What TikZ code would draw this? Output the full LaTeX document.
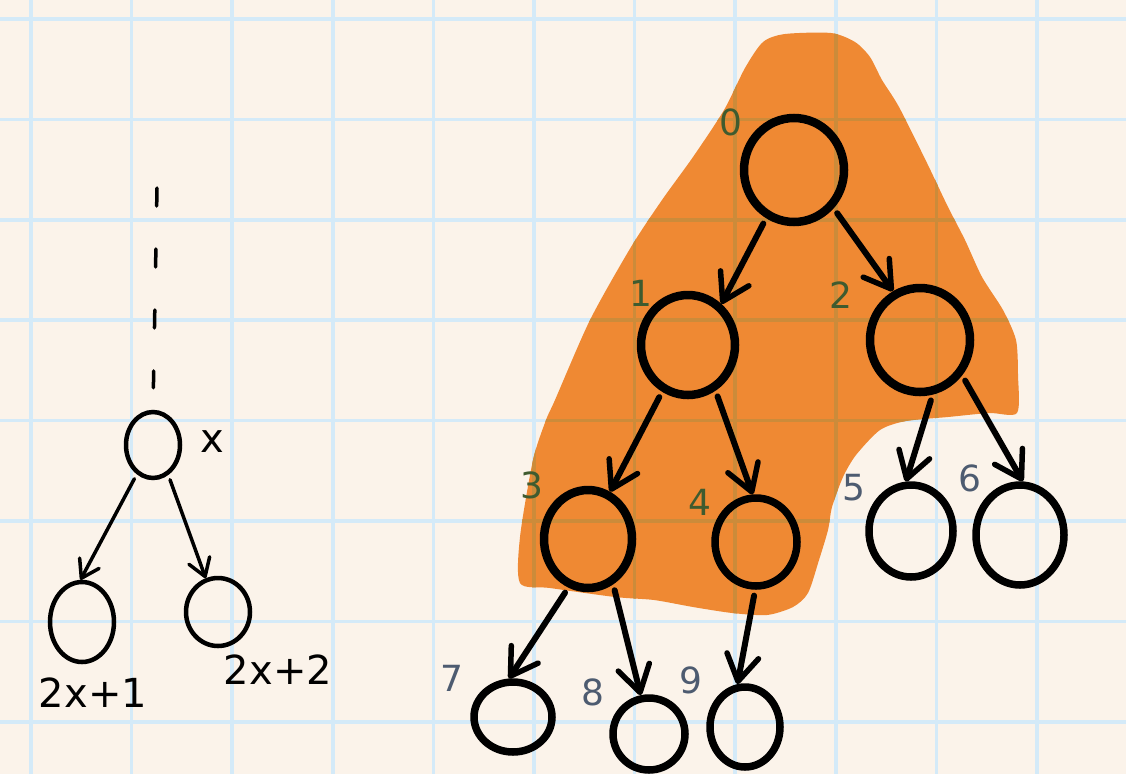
\documentclass[tikz,border=0pt]{standalone}
\usepackage{fontspec}
\setmainfont{DejaVu Sans}
\usetikzlibrary{shapes.geometric,arrows.meta}
\definecolor{paper}{RGB}{251,243,234}
\definecolor{gridblue}{RGB}{212,234,248}
\definecolor{gridtan}{RGB}{204,139,58}
\definecolor{blob}{RGB}{239,137,51}
\definecolor{lblgreen}{RGB}{63,91,47}
\definecolor{lblslate}{RGB}{77,91,112}
\begin{document}
\begin{tikzpicture}[x=1pt,y=-1pt,
  tnode/.style={ellipse,draw=black,line width=8.5pt,inner sep=0pt},
  snode/.style={ellipse,draw=black,line width=7.5pt,inner sep=0pt},
  lnode/.style={ellipse,draw=black,line width=4.5pt,inner sep=0pt},
  tedge/.style={line width=6pt,line cap=round,shorten <=6pt,
    -{Straight Barb[length=26pt,width=32pt,line width=5.5pt,round]}},
  ledge/.style={line width=3.5pt,line cap=round,shorten <=5pt,
    -{Straight Barb[length=17pt,width=22pt,line width=3.5pt,round]}},
  numg/.style={text=lblgreen,font=\fontsize{36}{36}\selectfont,inner sep=0pt},
  nums/.style={text=lblslate,font=\fontsize{36}{36}\selectfont,inner sep=0pt},
  hand/.style={text=black,font=\fontsize{40}{40}\selectfont,inner sep=0pt}]
\useasboundingbox (0,0) rectangle (1126,774);
\fill[paper] (0,0) rectangle (1126,774);
% grid
\foreach \i in {0,...,10} \draw[gridblue,line width=3.5pt] ({31+100.6*\i},0) -- ({31+100.6*\i},774);
\foreach \j in {0,...,7} \draw[gridblue,line width=3.5pt] (0,{19+100.4*\j}) -- (1126,{19+100.4*\j});
% orange blob
\def\blobpath{plot[smooth cycle,tension=0.45] coordinates {
 (763,42) (785,34) (831,33) (855,42) (870,57) (882,80) (899,107) (927,163)
 (948,207) (965,240) (982,277) (1003,310) (1016,340) (1018,375) (1017,413)
 (989,413) (948,417) (906,421) (880,430) (856,455) (843,477) (832,507)
 (828,530) (819,560) (808,593) (793,607) (767,615) (732,613) (693,607)
 (654,600) (615,597) (550,588) (520,583) (520,537) (533,460) (546,420)
 (555,400) (590,320) (631,247) (662,200) (693,157) (724,110) (745,68)}}
\fill[blob] \blobpath;
\begin{scope}
\clip \blobpath;
\foreach \i in {0,...,10} \draw[gridtan,line width=3.5pt] ({31+100.6*\i},0) -- ({31+100.6*\i},774);
\foreach \j in {0,...,7} \draw[gridtan,line width=3.5pt] (0,{19+100.4*\j}) -- (1126,{19+100.4*\j});
\end{scope}
% right tree nodes
\node[tnode,minimum width=100pt,minimum height=104pt] (n0) at (794,170) {};
\node[tnode,minimum width=94pt,minimum height=100pt] (n1) at (688,345) {};
\node[tnode,minimum width=100pt,minimum height=104pt] (n2) at (920,340) {};
\node[tnode,minimum width=88pt,minimum height=98pt] (n3) at (588,539) {};
\node[snode,minimum width=82pt,minimum height=88pt] (n4) at (756,542) {};
\node[snode,minimum width=84pt,minimum height=92pt] (n5) at (911,531) {};
\node[snode,minimum width=88pt,minimum height=100pt] (n6) at (1020,535) {};
\node[snode,minimum width=78pt,minimum height=70pt] (n7) at (513,717) {};
\node[snode,minimum width=72pt,minimum height=72pt] (n8) at (649,734) {};
\node[snode,minimum width=70pt,minimum height=80pt] (n9) at (745,727) {};
% labels
\node[numg] (l0) at (731,122) {0};
\node[numg] (l1) at (641,293) {1};
\node[numg] (l2) at (841,295) {2};
\node[numg] (l3) at (532,485) {3};
\node[numg] (l4) at (700,502) {4};
\node[nums] (l5) at (854,488) {5};
\node[nums] (l6) at (970,478) {6};
\node[nums] (l7) at (452,678) {7};
\node[nums] (l8) at (593,692) {8};
\node[nums] (l9) at (691,680) {9};
% right tree edges
\draw[tedge] (n0.240) -- (n1.51);
\draw[tedge] (n0.316) -- (n2.119);
\draw[tedge] (n1.241) -- (n3.65);
\draw[tedge] (n1.301) -- (n4.94);
\draw[tedge] (n2.283) -- (n5.96);
\draw[tedge] (n2.320) -- (n6.87);
\draw[tedge] (n3.248) -- (n7.96);
\draw[tedge] (n3.299) -- (n8.102);
\draw[tedge] (n4.269) -- (n9.100);
% left tree
\node[lnode,minimum width=54pt,minimum height=66pt] (nx) at (153,445) {};
\node[lnode,minimum width=64pt,minimum height=80pt] (nl) at (82,622) {};
\node[lnode,minimum width=64pt,minimum height=68pt] (nr) at (218,612) {};
\coordinate (up) at (157,188);
\draw[line width=3.5pt,line cap=round,dash pattern=on 18pt off 43pt,shorten >=22pt] (up) -- (nx.north);
\draw[ledge] (nx.241) -- (nl.92);
\draw[ledge] (nx.297) -- (nr.110);
\node[hand] (lx) at (212,442) {x};
\node[hand] (l2x1) at (93,693) {2x+1};
\node[hand] (l2x2) at (278,670) {2x+2};
\end{tikzpicture}
\end{document}
